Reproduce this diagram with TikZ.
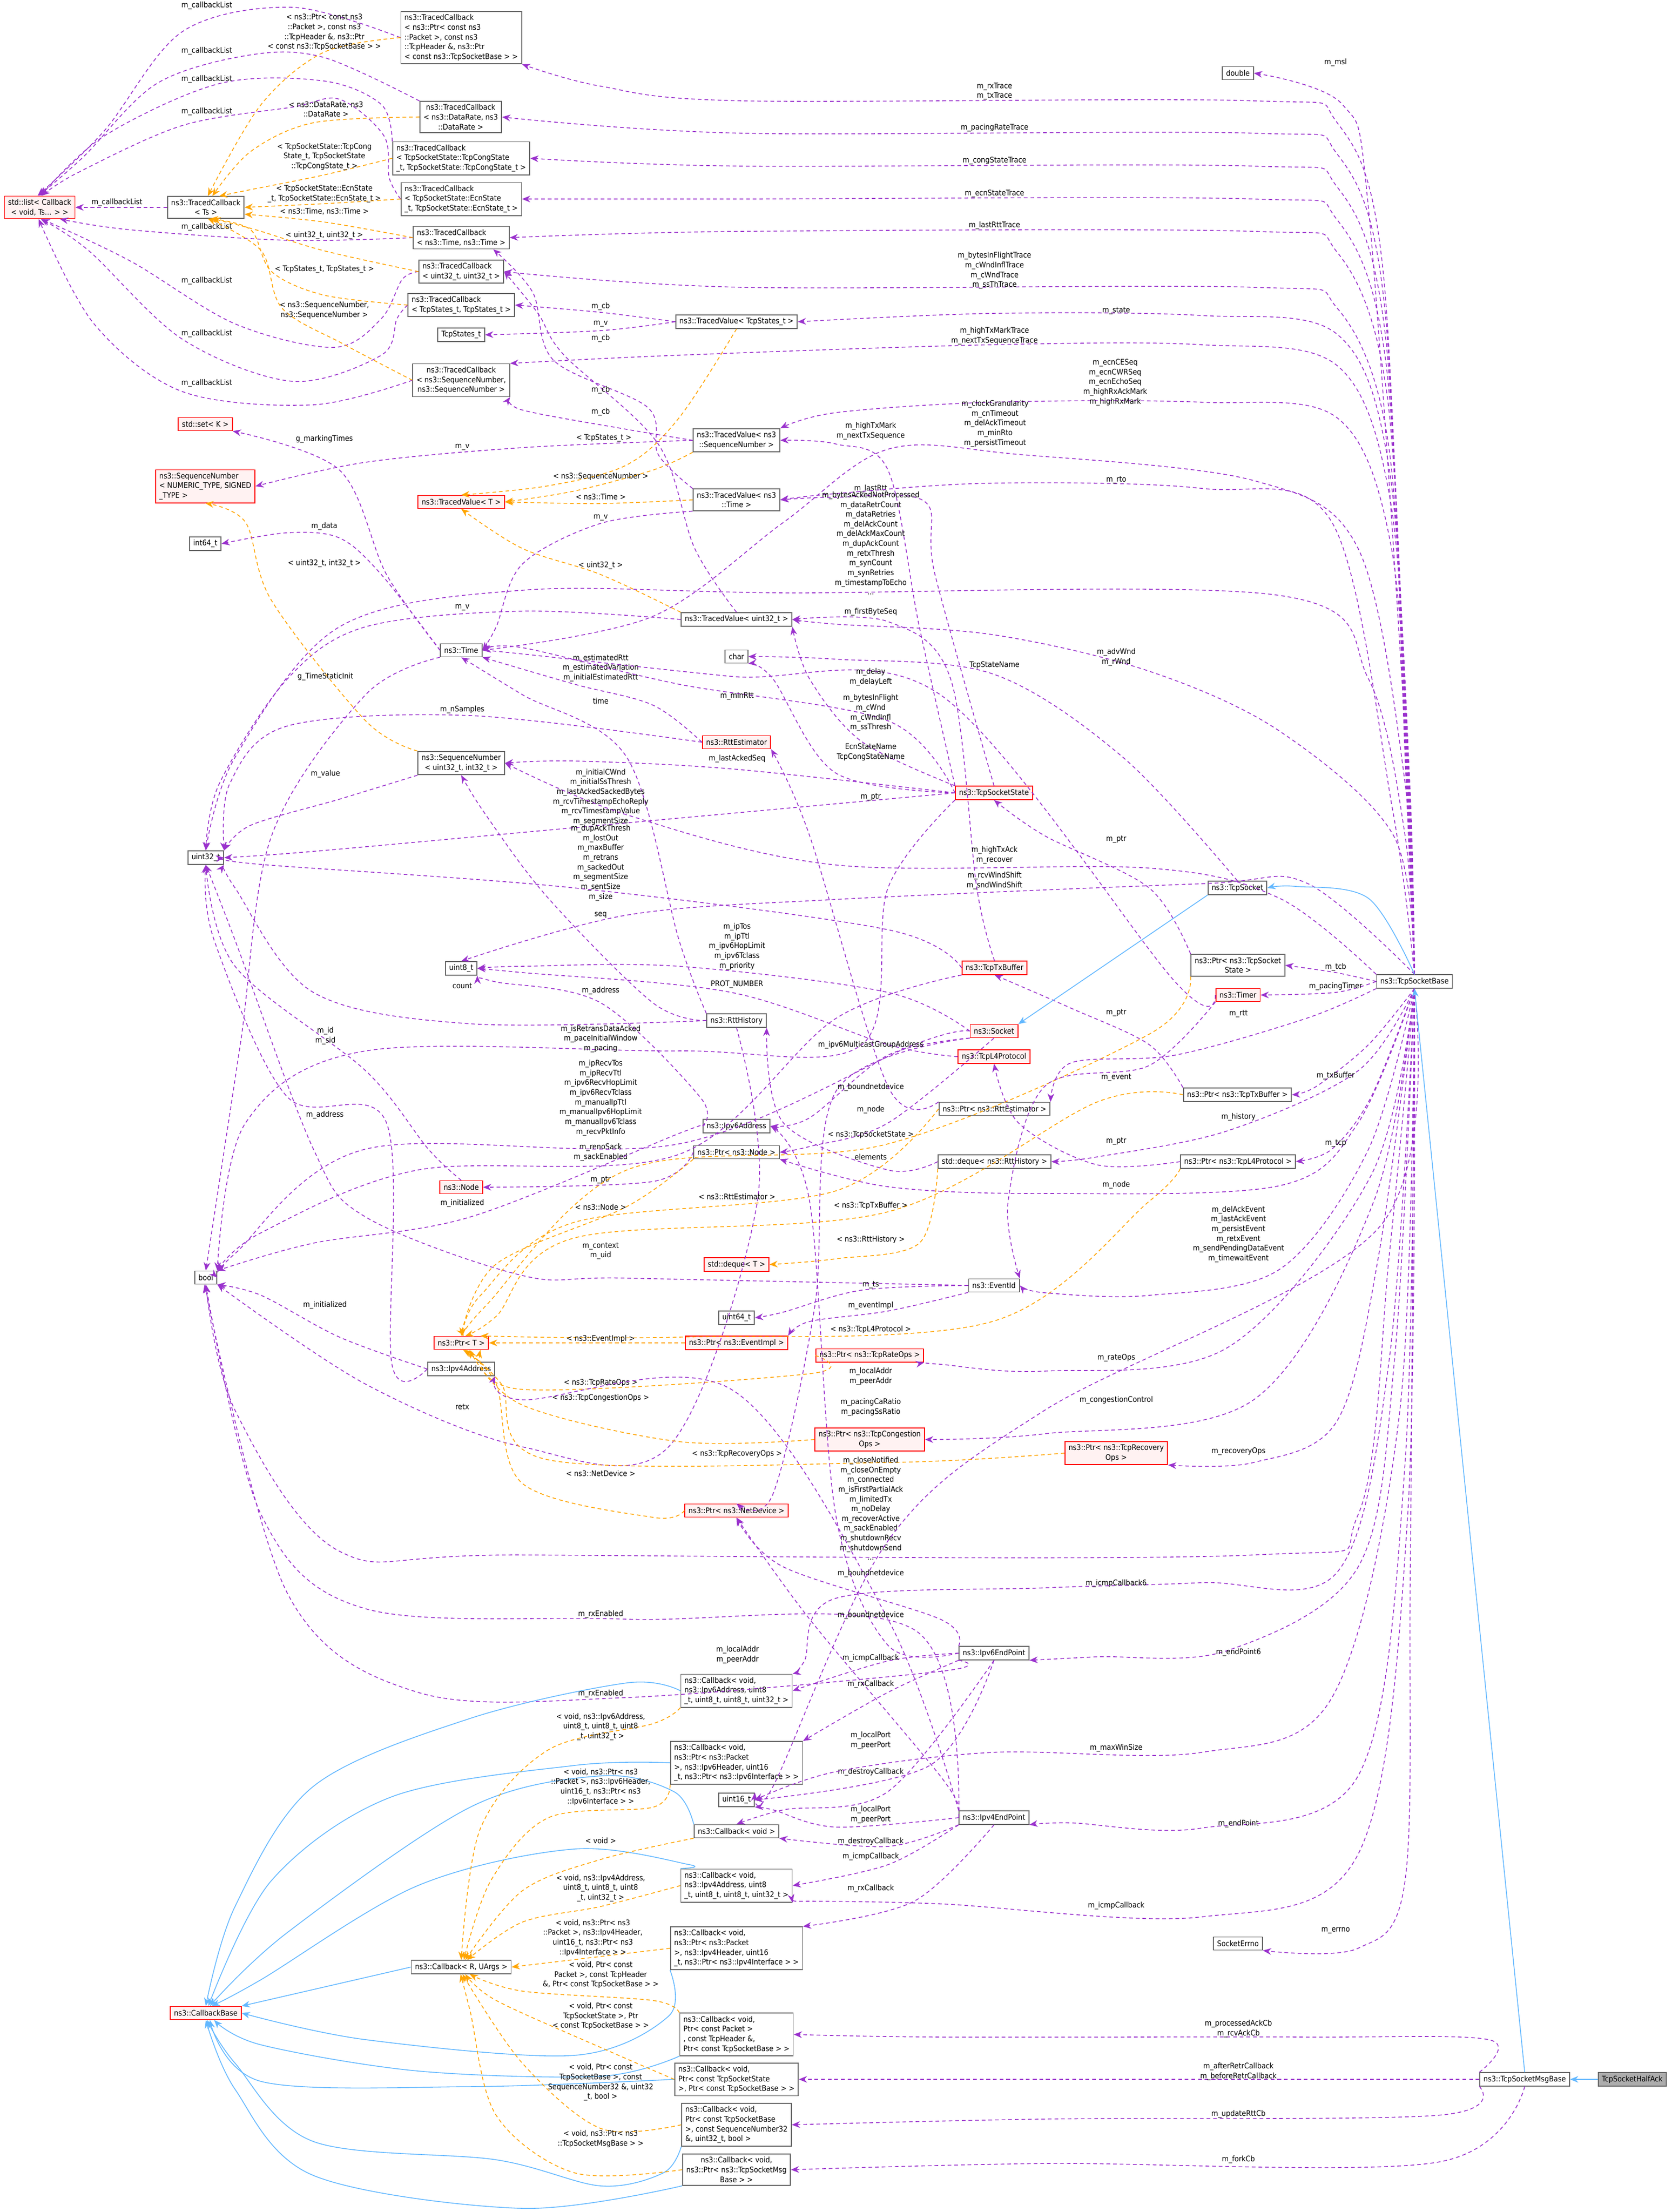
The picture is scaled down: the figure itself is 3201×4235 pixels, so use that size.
\documentclass[tikz,border=0pt]{standalone}
\usepackage{fontspec}
\setmainfont{DejaVu Sans Condensed}
\usetikzlibrary{arrows.meta}
\definecolor{pur}{HTML}{9A32CD}
\definecolor{org}{HTML}{FFA500}
\definecolor{blu}{HTML}{63B8FF}
\definecolor{gbd}{HTML}{666666}
\newcommand\ed[4]{\draw[#1] plot[smooth,tension=0.55] coordinates {(#2) #3 (#4)};}
\newcommand\lb[2]{\node[lbl] at (#1) {#2};}
\begin{document}
\begin{tikzpicture}[x=0.01cm,y=-0.01cm,
  every node/.style={font=\fontsize{4.2}{5.3}\selectfont},
  box/.style={draw=gbd,fill=white,line width=0.5pt,inner xsep=2pt,inner ysep=1.6pt,align=center,minimum height=0.25cm},
  rbox/.style={box,draw=red,fill=red!5},
  lbl/.style={inner sep=0pt,align=center},
  as/.style={draw=pur,line width=0.45pt,dash pattern=on 2pt off 1.6pt,-{Stealth[length=4.5pt,width=3.6pt]}},
  tp/.style={draw=org,line width=0.45pt,dash pattern=on 2pt off 1.6pt,-{Stealth[length=4.5pt,width=3.6pt]}},
  ih/.style={draw=blu,line width=0.45pt,-{Stealth[length=4.5pt,width=3.6pt]}}]
\useasboundingbox[fill=white] (0,0) rectangle (3201,4235);
% ---------- nodes
\node[rbox] (lst) at (76,397) {std::list< Callback\\< void, Ts... > >};
\node[box] (tcTs) at (394,397) {ns3::TracedCallback\\< Ts >};
\node[box,align=left] (tcPkt) at (883,72) {ns3::TracedCallback\\< ns3::Ptr< const ns3\\::Packet >, const ns3\\::TcpHeader \&, ns3::Ptr\\< const ns3::TcpSocketBase > >};
\node[box] (tcRate) at (882,224) {ns3::TracedCallback\\< ns3::DataRate, ns3\\::DataRate >};
\node[box,align=left] (tcCong) at (883,303) {ns3::TracedCallback\\< TcpSocketState::TcpCongState\\\_t, TcpSocketState::TcpCongState\_t >};
\node[box,align=left] (tcEcn) at (883,381) {ns3::TracedCallback\\< TcpSocketState::EcnState\\\_t, TcpSocketState::EcnState\_t >};
\node[box,align=left] (tcTime) at (883,455) {ns3::TracedCallback\\< ns3::Time, ns3::Time >};
\node[box,align=left] (tcU32) at (883,520) {ns3::TracedCallback\\< uint32\_t, uint32\_t >};
\node[box,align=left] (tcStates) at (883,584) {ns3::TracedCallback\\< TcpStates\_t, TcpStates\_t >};
\node[box] (statesT) at (883,641) {TcpStates\_t};
\node[box] (tcSeq) at (883,728) {ns3::TracedCallback\\< ns3::SequenceNumber,\\ns3::SequenceNumber >};
\node[box] (tvStates) at (1410,616) {ns3::TracedValue< TcpStates\_t >};
\node[rbox] (setK) at (393,812) {std::set< K >};
\node[rbox,align=left] (seqNum) at (393,931) {ns3::SequenceNumber\\< NUMERIC\_TYPE, SIGNED\\\_TYPE >};
\node[rbox] (tvT) at (883,961) {ns3::TracedValue< T >};
\node[box] (tvSeq) at (1410,843) {ns3::TracedValue< ns3\\::SequenceNumber >};
\node[box] (tvTime) at (1410,957) {ns3::TracedValue< ns3\\::Time >};
\node[box] (i64) at (393,1041) {int64\_t};
\node[box] (tvU32) at (1410,1186) {ns3::TracedValue< uint32\_t >};
\node[box] (time) at (883,1245) {ns3::Time};
\node[box] (chr) at (1410,1257) {char};
\node[rbox] (rttEst) at (1410,1421) {ns3::RttEstimator};
\node[box] (seqU32) at (883,1461) {ns3::SequenceNumber\\< uint32\_t, int32\_t >};
\node[box] (u32) at (394,1642) {uint32\_t};
\node[box] (u8) at (883,1854) {uint8\_t};
\node[box] (rttHist) at (1410,1954) {ns3::RttHistory};
\node[box] (ip6) at (1410,2156) {ns3::Ipv6Address};
\node[box] (ptrNode) at (1410,2206) {ns3::Ptr< ns3::Node >};
\node[rbox] (node) at (883,2273) {ns3::Node};
\node[box] (bool) at (394,2446) {bool};
\node[rbox] (dequeT) at (1410,2421) {std::deque< T >};
\node[box] (u64) at (1410,2523) {uint64\_t};
\node[rbox] (ptrT) at (883,2571) {ns3::Ptr< T >};
\node[rbox] (ptrEv) at (1410,2571) {ns3::Ptr< ns3::EventImpl >};
\node[box] (ip4) at (883,2621) {ns3::Ipv4Address};
\node[rbox] (ptrDev) at (1410,2892) {ns3::Ptr< ns3::NetDevice >};
\node[box,align=left] (cbIp6) at (1410,3237) {ns3::Callback< void,\\ ns3::Ipv6Address, uint8\\\_t, uint8\_t, uint8\_t, uint32\_t >};
\node[box,align=left] (cbIp6p) at (1410,3375) {ns3::Callback< void,\\ ns3::Ptr< ns3::Packet\\ >, ns3::Ipv6Header, uint16\\\_t, ns3::Ptr< ns3::Ipv6Interface > >};
\node[box] (u16) at (1410,3446) {uint16\_t};
\node[box] (cbVoid) at (1410,3506) {ns3::Callback< void >};
\node[box,align=left] (cbIp4) at (1410,3610) {ns3::Callback< void,\\ ns3::Ipv4Address, uint8\\\_t, uint8\_t, uint8\_t, uint32\_t >};
\node[box,align=left] (cbIp4p) at (1410,3730) {ns3::Callback< void,\\ ns3::Ptr< ns3::Packet\\ >, ns3::Ipv4Header, uint16\\\_t, ns3::Ptr< ns3::Ipv4Interface > >};
\node[box] (cbR) at (883,3766) {ns3::Callback< R, UArgs >};
\node[rbox] (cbBase) at (394,3854) {ns3::CallbackBase};
\node[box,align=left] (cbPkt) at (1410,3895) {ns3::Callback< void,\\ Ptr< const Packet >\\, const TcpHeader \&,\\ Ptr< const TcpSocketBase > >};
\node[box,align=left] (cbState) at (1410,3981) {ns3::Callback< void,\\ Ptr< const TcpSocketState\\ >, Ptr< const TcpSocketBase > >};
\node[box,align=left] (cbSeq) at (1410,4068) {ns3::Callback< void,\\ Ptr< const TcpSocketBase\\ >, const SequenceNumber32\\ \&, uint32\_t, bool >};
\node[box] (cbMsg) at (1410,4154) {ns3::Callback< void,\\ ns3::Ptr< ns3::TcpSocketMsg\\Base > >};
\node[box] (dbl) at (2370,140) {double};
\node[rbox] (tss) at (1903,1518) {ns3::TcpSocketState};
\node[box] (tsock) at (2369,1700) {ns3::TcpSocket};
\node[box] (ptrTss) at (2370,1848) {ns3::Ptr< ns3::TcpSocket\\State >};
\node[box] (tsb) at (2708,1879) {ns3::TcpSocketBase};
\node[rbox] (timer) at (2370,1905) {ns3::Timer};
\node[rbox] (txbuf) at (1904,1853) {ns3::TcpTxBuffer};
\node[rbox] (sock) at (1903,1974) {ns3::Socket};
\node[rbox] (l4) at (1903,2023) {ns3::TcpL4Protocol};
\node[box] (ptrTx) at (2369,2096) {ns3::Ptr< ns3::TcpTxBuffer >};
\node[box] (ptrRtt) at (1904,2123) {ns3::Ptr< ns3::RttEstimator >};
\node[box] (dequeRtt) at (1904,2224) {std::deque< ns3::RttHistory >};
\node[box] (ptrL4) at (2370,2224) {ns3::Ptr< ns3::TcpL4Protocol >};
\node[box] (evId) at (1903,2461) {ns3::EventId};
\node[rbox] (ptrRate) at (1665,2595) {ns3::Ptr< ns3::TcpRateOps >};
\node[rbox] (ptrCong) at (1665,2756) {ns3::Ptr< ns3::TcpCongestion\\Ops >};
\node[rbox] (ptrRec) at (2137,2782) {ns3::Ptr< ns3::TcpRecovery\\Ops >};
\node[box] (ep6) at (1903,3165) {ns3::Ipv6EndPoint};
\node[box] (ep4) at (1903,3480) {ns3::Ipv4EndPoint};
\node[box] (errno) at (2370,3721) {SocketErrno};
\node[box] (msgBase) at (2919,3981) {ns3::TcpSocketMsgBase};
\node[box,fill=gray!65] (halfAck) at (3125,3981) {TcpSocketHalfAck};
% ---------- callback list
\ed{as}{tcPkt.west}{(560,14) (350,60) (200,250)}{lst.100}
\ed{as}{tcRate.north west}{(620,110) (480,105) (300,160) (160,300)}{lst.95}
\ed{as}{tcCong.north west}{(730,200) (620,155) (420,160) (200,260)}{lst.85}
\ed{as}{tcEcn.west}{(745,340) (735,260) (650,190) (560,205) (350,240) (150,330)}{lst.80}
\ed{as}{tcTs.west}{}{lst.east}
\ed{as}{tcTime.west}{(550,460) (250,440)}{lst.-30}
\ed{as}{tcU32.west}{(770,535) (730,610) (640,665) (450,620) (250,500)}{lst.-80}
\ed{as}{tcStates.west}{(760,610) (730,680) (560,730) (350,650) (170,480)}{lst.-85}
\ed{as}{tcSeq.west}{(600,775) (350,750) (180,620)}{lst.-95}
\lb{396,11}{m\_callbackList}\lb{396,98}{m\_callbackList}\lb{396,152}{m\_callbackList}
\lb{396,214}{m\_callbackList}\lb{224,388}{m\_callbackList}\lb{396,435}{m\_callbackList}
\lb{396,538}{m\_callbackList}\lb{396,639}{m\_callbackList}\lb{396,734}{m\_callbackList}
% templates to TracedCallback<Ts>
\ed{tp}{tcPkt.west}{(620,100) (500,200)}{tcTs.80}
\ed{tp}{tcRate.west}{(600,235) (480,290)}{tcTs.60}
\ed{tp}{tcCong.west}{(620,335) (470,365)}{tcTs.40}
\ed{tp}{tcEcn.west}{(620,390)}{tcTs.east}
\ed{tp}{tcTime.west}{(620,425)}{tcTs.-10}
\ed{tp}{tcU32.west}{(620,480) (490,440)}{tcTs.-60}
\ed{tp}{tcStates.west}{(620,565) (520,520) (480,440)}{tcTs.-70}
\ed{tp}{tcSeq.west}{(660,660) (540,590) (500,480)}{tcTs.-80}
\lb{621,62}{< ns3::Ptr< const ns3\\::Packet >, const ns3\\::TcpHeader \&, ns3::Ptr\\< const ns3::TcpSocketBase > >}
\lb{624,209}{< ns3::DataRate, ns3\\::DataRate >}
\lb{621,300}{< TcpSocketState::TcpCong\\State\_t, TcpSocketState\\::TcpCongState\_t >}
\lb{621,371}{< TcpSocketState::EcnState\\\_t, TcpSocketState::EcnState\_t >}
\lb{621,405}{< ns3::Time, ns3::Time >}
\lb{621,451}{< uint32\_t, uint32\_t >}
\lb{621,516}{< TcpStates\_t, TcpStates\_t >}
\lb{621,594}{< ns3::SequenceNumber,\\ns3::SequenceNumber >}
% traced values
\ed{as}{tvStates.west}{(1150,598)}{tcStates.east}
\ed{as}{tvStates.west}{(1150,633)}{statesT.east}
\ed{as}{tvU32.north}{(1330,1050) (1260,850) (1080,680) (1030,600)}{tcU32.east}
\ed{as}{tvTime.north west}{(1260,870) (1240,780) (1060,690) (1020,560)}{tcTime.-20}
\ed{as}{tvSeq.west}{(1200,822) (1000,785)}{tcSeq.south east}
\ed{as}{tvSeq.west}{(1000,857) (700,885)}{seqNum.east}
\ed{as}{tvTime.south west}{(1150,1002) (1000,1080) (950,1200)}{time.east}
\ed{as}{tvU32.west}{(1000,1170) (700,1200) (550,1300) (420,1500)}{u32.north}
\lb{1150,587}{m\_cb}\lb{1150,620}{m\_v}\lb{1150,648}{m\_cb}\lb{1150,747}{m\_cb}\lb{1150,789}{m\_cb}
\lb{885,856}{m\_v}\lb{1150,991}{m\_v}\lb{885,1163}{m\_v}
\ed{tp}{tvStates.south}{(1300,800) (1200,890) (1050,930)}{tvT.north}
\ed{tp}{tvSeq.south west}{(1250,900) (1100,940)}{tvT.east}
\ed{tp}{tvTime.west}{(1150,964)}{tvT.east}
\ed{tp}{tvU32.north west}{(1150,1100) (1000,1050)}{tvT.south}
\lb{1156,839}{< TcpStates\_t >}\lb{1150,912}{< ns3::SequenceNumber >}\lb{1150,951}{< ns3::Time >}\lb{1150,1083}{< uint32\_t >}
\ed{tp}{seqU32.north west}{(700,1380) (520,1150) (470,1000)}{seqNum.south}
\lb{621,1079}{< uint32\_t, int32\_t >}
% time etc
\ed{as}{time.west}{(740,1100) (650,900)}{setK.south east}
\ed{as}{time.west}{(730,1100) (650,1030) (550,1020)}{i64.east}
\ed{as}{time.south west}{(700,1330) (520,1600) (460,2000)}{bool.north}
\lb{621,841}{g\_markingTimes}\lb{621,1008}{m\_data}\lb{623,1296}{g\_TimeStaticInit}
\ed{as}{rttEst.west}{(1250,1350) (1100,1310)}{time.south east}
\ed{as}{rttEst.west}{(900,1370) (550,1390) (440,1500)}{u32.north east}
\ed{as}{rttHist.north west}{(1300,1800) (1200,1450) (1000,1330)}{time.south}
\ed{as}{rttHist.west}{(1250,1920) (1050,1720) (930,1560)}{seqU32.south}
\ed{as}{rttHist.west}{(900,1960) (600,1900) (450,1700)}{u32.south east}
\ed{as}{rttHist.south}{(1450,2300) (1280,2770) (1000,2770) (700,2650)}{bool.south east}
\lb{1150,1279}{m\_estimatedRtt\\m\_estimatedVariation\\m\_initialEstimatedRtt}
\lb{885,1359}{m\_nSamples}\lb{1150,1342}{time}\lb{1150,1752}{seq}\lb{885,1887}{count}\lb{885,2693}{retx}
\lb{623,1482}{m\_value}
\ed{as}{seqU32.south west}{(650,1530) (480,1580)}{u32.north east}
% TcpSocketState
\ed{as}{tss.west}{(1700,1380) (1300,1310) (1000,1240)}{time.east}
\ed{as}{tss.west}{(1400,1472) (1100,1457)}{seqU32.east}
\ed{as}{tss.west}{(1150,1580) (600,1630)}{u32.east}
\ed{as}{tss.north west}{(1760,1200) (1700,900) (1600,850)}{tvSeq.east}
\ed{as}{tss.north}{(1790,1100) (1770,960) (1600,952)}{tvTime.east}
\ed{as}{tss.north west}{(1650,1420) (1550,1300)}{tvU32.south east}
\ed{as}{tss.west}{(1600,1480) (1480,1300)}{chr.south east}
\ed{as}{tss.south west}{(1700,1700) (1650,2000) (1300,2012) (700,2012) (470,2150)}{bool.north east}
\lb{1411,1333}{m\_minRtt}\lb{1411,1453}{m\_lastAckedSeq}
\lb{1150,1526}{m\_initialCWnd\\m\_initialSsThresh\\m\_lastAckedSackedBytes\\m\_rcvTimestampEchoReply\\m\_rcvTimestampValue\\m\_segmentSize}
\lb{1667,825}{m\_highTxMark\\m\_nextTxSequence}\lb{1667,936}{m\_lastRtt}
\lb{1667,1365}{m\_bytesInFlight\\m\_cWnd\\m\_cWndInfl\\m\_ssThresh}
\lb{1667,1440}{EcnStateName\\TcpCongStateName}
\lb{1150,1989}{m\_isRetransDataAcked\\m\_paceInitialWindow\\m\_pacing}
% TxBuffer, Socket, L4
\ed{as}{txbuf.west}{(1700,1780) (1100,1700) (500,1655)}{u32.east}
\ed{as}{txbuf.south west}{(1600,1950) (1300,2210) (800,2240) (500,2360)}{bool.north east}
\ed{as}{txbuf.north}{(1870,1700) (1820,1300) (1700,1190)}{tvU32.east}
\lb{1150,1652}{m\_dupAckThresh\\m\_lostOut\\m\_maxBuffer\\m\_retrans\\m\_sackedOut\\m\_segmentSize\\m\_sentSize\\m\_size}
\lb{1150,2206}{m\_renoSack\\m\_sackEnabled}\lb{1667,1172}{m\_firstByteSeq}
\ed{as}{sock.west}{(1700,1900) (1300,1850) (1000,1850)}{u8.east}
\ed{as}{sock.west}{(1750,2000) (1300,2190) (700,2200) (450,2400)}{bool.east}
\ed{as}{sock.south west}{(1700,2020) (1550,2140)}{ip6.east}
\ed{as}{sock.south west}{(1600,2090) (1560,2500) (1480,2860)}{ptrDev.north}
\ed{as}{sock.south}{(1700,2150) (1550,2195)}{ptrNode.east}
\ed{as}{l4.west}{(1700,2000) (1400,1900) (1000,1862)}{u8.east}
\lb{1411,1812}{m\_ipTos\\m\_ipTtl\\m\_ipv6HopLimit\\m\_ipv6Tclass\\m\_priority}
\lb{1150,2102}{m\_ipRecvTos\\m\_ipRecvTtl\\m\_ipv6RecvHopLimit\\m\_ipv6RecvTclass\\m\_manualIpTtl\\m\_manualIpv6HopLimit\\m\_manualIpv6Tclass\\m\_recvPktInfo}
\lb{1667,2001}{m\_ipv6MulticastGroupAddress}\lb{1667,2082}{m\_boundnetdevice}\lb{1667,2125}{m\_node}
\lb{1411,1885}{PROT\_NUMBER}
% addresses, nodes
\ed{as}{ip6.west}{(1340,2100) (1150,1920) (950,1880)}{u8.south east}
\ed{as}{ip6.west}{(1300,2170) (900,2330) (600,2380)}{bool.north east}
\ed{as}{ip4.west}{(750,2610) (740,2150) (550,2100) (410,1800)}{u32.south}
\ed{as}{ip4.west}{(650,2560) (500,2480)}{bool.south east}
\ed{as}{node.north}{(820,2200) (700,2050) (450,1850)}{u32.south}
\ed{as}{ptrNode.west}{(1250,2262)}{node.east}
\lb{1150,1897}{m\_address}\lb{885,2304}{m\_initialized}\lb{622,2135}{m\_address}\lb{622,2499}{m\_initialized}
\lb{623,1983}{m\_id\\m\_sid}\lb{1150,2259}{m\_ptr}
% Ptr templates
\ed{tp}{ptrNode.south west}{(1200,2310) (950,2420)}{ptrT.north}
\ed{tp}{ptrRtt.west}{(1600,2280) (1100,2340) (920,2480)}{ptrT.80}
\ed{tp}{ptrTss.south west}{(2200,1980) (1700,2190) (1200,2240) (930,2500)}{ptrT.70}
\ed{tp}{ptrTx.west}{(2100,2110) (1700,2320) (1100,2370) (950,2520)}{ptrT.60}
\ed{tp}{ptrL4.south west}{(2200,2300) (1900,2530) (1300,2560)}{ptrT.20}
\ed{tp}{ptrEv.west}{}{ptrT.east}
\ed{tp}{ptrRate.west}{(1550,2630) (1000,2660)}{ptrT.-20}
\ed{tp}{ptrCong.west}{(1300,2760) (1000,2690)}{ptrT.-40}
\ed{tp}{ptrRec.west}{(1700,2800) (1050,2795) (960,2650)}{ptrT.-60}
\ed{tp}{ptrDev.west}{(1250,2905) (1000,2840) (950,2650)}{ptrT.-75}
\ed{tp}{dequeRtt.south west}{(1760,2380) (1600,2410)}{dequeT.east}
\lb{1150,2311}{< ns3::Node >}\lb{1411,2291}{< ns3::RttEstimator >}\lb{1667,2172}{< ns3::TcpSocketState >}
\lb{1667,2308}{< ns3::TcpTxBuffer >}\lb{1667,2545}{< ns3::TcpL4Protocol >}\lb{1150,2563}{< ns3::EventImpl >}
\lb{1150,2648}{< ns3::TcpRateOps >}\lb{1150,2676}{< ns3::TcpCongestionOps >}\lb{1411,2784}{< ns3::TcpRecoveryOps >}
\lb{1150,2821}{< ns3::NetDevice >}\lb{1667,2373}{< ns3::RttHistory >}
% ptr members
\ed{as}{ptrRtt.north west}{(1700,2080) (1550,1600)}{rttEst.south east}
\ed{as}{dequeRtt.west}{(1700,2240) (1500,2150)}{rttHist.south east}
\ed{as}{ptrTss.north west}{(2200,1700) (2000,1600)}{tss.south}
\ed{as}{ptrTx.north west}{(2200,2000) (2050,1930)}{txbuf.south}
\ed{as}{ptrL4.west}{(2100,2230) (1950,2150)}{l4.south}
\lb{1667,1526}{m\_ptr}\lb{1667,2215}{elements}\lb{2137,1607}{m\_ptr}\lb{2137,1939}{m\_ptr}\lb{2137,2185}{m\_ptr}
% EventId, Timer
\ed{as}{evId.west}{(1650,2470) (1500,2512)}{u64.east}
\ed{as}{evId.south west}{(1700,2510) (1550,2530)}{ptrEv.north east}
\ed{as}{evId.west}{(1200,2447) (1000,2442) (700,2330) (600,2200) (450,1800)}{u32.south}
\ed{as}{timer.south west}{(2200,2040) (2000,2080) (1930,2300)}{evId.north east}
\ed{as}{timer.west}{(2250,1880) (1800,1330) (1400,1295) (1000,1252)}{time.east}
\lb{1667,2460}{m\_ts}\lb{1667,2500}{m\_eventImpl}\lb{1150,2395}{m\_context\\m\_uid}
\lb{2137,2063}{m\_event}\lb{1667,1296}{m\_delay\\m\_delayLeft}
% endpoints
\ed{as}{ep4.north west}{(1700,3100) (1400,2660) (1000,2680)}{ip4.south east}
\ed{as}{ep6.west}{(1700,3150) (1600,2900) (1550,2300)}{ip6.east}
\ed{as}{ep6.north west}{(1800,3100) (1500,3000)}{ptrDev.south}
\ed{as}{ep4.north west}{(1800,3400) (1550,3100)}{ptrDev.south}
\ed{as}{ep6.west}{(1700,3180)}{cbIp6.east}
\ed{as}{ep6.south west}{(1700,3240)}{cbIp6p.north east}
\ed{as}{ep6.south}{(1780,3380)}{u16.east}
\ed{as}{ep6.south}{(1700,3430) (1500,3465)}{cbVoid.north}
\ed{as}{ep4.west}{(1600,3498) (1480,3465)}{u16.south east}
\ed{as}{ep4.south west}{(1700,3535)}{cbVoid.south east}
\ed{as}{ep4.south west}{(1700,3570)}{cbIp4.east}
\ed{as}{ep4.south}{(1750,3640)}{cbIp4p.north east}
\ed{as}{ep4.west}{(1750,3120) (1200,3100) (700,3080) (500,2900)}{bool.south}
\ed{as}{ep6.south west}{(1800,3200) (1200,3250) (800,3240) (550,3050)}{bool.-100}
\lb{1667,2635}{m\_localAddr\\m\_peerAddr}\lb{1412,3168}{m\_localAddr\\m\_peerAddr}
\lb{1667,3013}{m\_boundnetdevice}\lb{1667,3093}{m\_boundnetdevice}
\lb{1667,3175}{m\_icmpCallback}\lb{1667,3225}{m\_rxCallback}\lb{1667,3332}{m\_localPort\\m\_peerPort}
\lb{1667,3393}{m\_destroyCallback}\lb{1667,3474}{m\_localPort\\m\_peerPort}\lb{1667,3526}{m\_destroyCallback}
\lb{1667,3555}{m\_icmpCallback}\lb{1667,3616}{m\_rxCallback}\lb{1150,3091}{m\_rxEnabled}\lb{1150,3243}{m\_rxEnabled}
% TcpSocketBase upper
\ed{as}{tsb.north}{(2690,1400) (2620,400) (2570,200)}{dbl.east}
\ed{as}{tsb.north}{(2692,1500) (2648,520) (2560,235) (2400,193) (1420,193) (1150,165)}{tcPkt.south east}
\ed{as}{tsb.north}{(2693,1500) (2650,580) (2560,295) (2400,255) (1420,255)}{tcRate.east}
\ed{as}{tsb.north}{(2694,1500) (2652,640) (2560,358) (2400,318) (1420,318)}{tcCong.east}
\ed{as}{tsb.north}{(2695,1500) (2654,700) (2560,421) (2400,381) (1420,381)}{tcEcn.east}
\ed{as}{tsb.north}{(2696,1500) (2656,760) (2560,483) (2400,443) (1420,443)}{tcTime.east}
\ed{as}{tsb.north}{(2697,1500) (2658,850) (2560,590) (2400,550) (1420,550)}{tcU32.east}
\ed{as}{tsb.north}{(2698,1500) (2660,900) (2560,640) (2300,604) (1900,600)}{tvStates.east}
\ed{as}{tsb.north}{(2699,1500) (2662,960) (2560,700) (2300,660) (1900,660) (1300,680)}{tcSeq.north east}
\ed{as}{tsb.north}{(2700,1550) (2664,1050) (2560,800) (2300,770) (1900,770) (1600,790)}{tvSeq.north east}
\ed{as}{tsb.north}{(2666,1550) (2550,1000) (2300,935) (1900,925) (1600,945)}{tvTime.east}
\ed{as}{tsb.north}{(2690,1500) (2600,1050) (2400,920) (1950,870) (1700,860) (1500,1000) (1250,1180)}{time.east}
\ed{as}{tsb.north}{(2668,1600) (2450,1400) (2200,1285) (1900,1215) (1600,1195)}{tvU32.east}
\ed{as}{tsock.north}{(2150,1450) (1900,1290) (1600,1262)}{chr.east}
\ed{as}{tsb.north}{(2690,1600) (2620,1300) (2450,1140) (1500,1135) (1000,1130) (650,1200) (450,1450)}{u32.north}
\ed{as}{tsb.north west}{(2450,1720) (2200,1662) (1600,1656) (1200,1560)}{seqU32.east}
\ed{as}{tsb.north}{(2500,1690) (2300,1692) (1600,1722) (1200,1752)}{u8.north}
\lb{2557,120}{m\_msl}\lb{1904,175}{m\_rxTrace\\m\_txTrace}\lb{1904,245}{m\_pacingRateTrace}
\lb{1904,308}{m\_congStateTrace}\lb{1904,371}{m\_ecnStateTrace}\lb{1904,432}{m\_lastRttTrace}
\lb{1904,518}{m\_bytesInFlightTrace\\m\_cWndInflTrace\\m\_cWndTrace\\m\_ssThTrace}
\lb{2137,595}{m\_state}\lb{1904,643}{m\_highTxMarkTrace\\m\_nextTxSequenceTrace}
\lb{2135,732}{m\_ecnCESeq\\m\_ecnCWRSeq\\m\_ecnEchoSeq\\m\_highRxAckMark\\m\_highRxMark}
\lb{1905,811}{m\_clockGranularity\\m\_cnTimeout\\m\_delAckTimeout\\m\_minRto\\m\_persistTimeout}
\lb{2137,919}{m\_rto}\lb{2137,1258}{m\_advWnd\\m\_rWnd}\lb{1904,1274}{TcpStateName}
\lb{1667,1040}{m\_bytesAckedNotProcessed\\m\_dataRetrCount\\m\_dataRetries\\m\_delAckCount\\m\_delAckMaxCount\\m\_dupAckCount\\m\_retxThresh\\m\_synCount\\m\_synRetries\\m\_timestampToEcho\\...}
\lb{1904,1637}{m\_highTxAck\\m\_recover}\lb{1904,1686}{m\_rcvWindShift\\m\_sndWindShift}
% TcpSocketBase lower
\ed{as}{tsb.west}{(2557,1862)}{ptrTss.east}
\ed{as}{tsb.west}{(2557,1900)}{timer.east}
\ed{as}{tsb.south west}{(2500,1950) (2250,2020) (2050,2035)}{ptrRtt.north east}
\ed{as}{tsb.south}{(2620,2000) (2520,2080)}{ptrTx.east}
\ed{as}{tsb.south}{(2600,2050) (2350,2165) (2100,2215)}{dequeRtt.east}
\ed{as}{tsb.south}{(2625,2100) (2550,2200)}{ptrL4.east}
\ed{as}{tsb.south}{(2600,2150) (2450,2270) (2000,2285) (1700,2272)}{ptrNode.south east}
\ed{as}{tsb.south}{(2620,2200) (2450,2430) (2200,2480) (2000,2475)}{evId.east}
\ed{as}{tsb.south}{(2625,2250) (2350,2580) (2000,2625) (1800,2612)}{ptrRate.south east}
\ed{as}{tsb.south}{(2630,2300) (2400,2680) (2000,2745)}{ptrCong.east}
\ed{as}{tsb.south}{(2640,2400) (2560,2720) (2400,2800)}{ptrRec.south east}
\ed{as}{tsb.south}{(2660,2400) (2600,2900) (2400,2977) (1000,2977) (650,2970) (450,2700)}{bool.south}
\ed{as}{tsb.south}{(2660,2600) (2560,3010) (2300,3030) (2000,3040) (1600,3060) (1540,3180)}{cbIp6.north east}
\ed{as}{tsb.south}{(2670,2600) (2600,3000) (2350,3160) (2100,3172)}{ep6.south east}
\ed{as}{tsb.south}{(2680,2700) (2550,3250) (2300,3355) (1900,3355) (1600,3392)}{u16.east}
\ed{as}{tsb.south}{(2690,2800) (2600,3400) (2300,3500) (2050,3490)}{ep4.south east}
\ed{as}{tsb.south}{(2695,2900) (2600,3550) (2300,3670) (1800,3645) (1560,3640)}{cbIp4.south east}
\ed{as}{tsb.south}{(2700,3000) (2690,3600) (2600,3730)}{errno.south east}
\lb{2557,1852}{m\_tcb}\lb{2557,1889}{m\_pacingTimer}\lb{2371,1941}{m\_rtt}\lb{2557,2060}{m\_txBuffer}
\lb{2371,2139}{m\_history}\lb{2557,2189}{m\_tcp}\lb{2137,2269}{m\_node}
\lb{2371,2363}{m\_delAckEvent\\m\_lastAckEvent\\m\_persistEvent\\m\_retxEvent\\m\_sendPendingDataEvent\\m\_timewaitEvent}
\lb{2137,2600}{m\_rateOps}\lb{2137,2681}{m\_congestionControl}\lb{2371,2779}{m\_recoveryOps}
\lb{1667,2694}{m\_pacingCaRatio\\m\_pacingSsRatio}
\lb{1667,2888}{m\_closeNotified\\m\_closeOnEmpty\\m\_connected\\m\_isFirstPartialAck\\m\_limitedTx\\m\_noDelay\\m\_recoverActive\\m\_sackEnabled\\m\_shutdownRecv\\m\_shutdownSend\\...}
\lb{2137,3032}{m\_icmpCallback6}\lb{2371,3164}{m\_endPoint6}\lb{2137,3347}{m\_maxWinSize}
\lb{2371,3492}{m\_endPoint}\lb{2137,3649}{m\_icmpCallback}\lb{2557,3696}{m\_errno}
\ed{as}{tsb.south}{(2640,2350) (2000,2700) (1700,2950) (1480,3420)}{u16.north east}
% msg base
\ed{as}{msgBase.north west}{(2850,3905) (2500,3900) (1800,3900)}{cbPkt.east}
\ed{as}{msgBase.west}{}{cbState.east}
\ed{as}{msgBase.south west}{(2750,4050) (2000,4057)}{cbSeq.east}
\ed{as}{msgBase.south}{(2750,4140) (2000,4142)}{cbMsg.east}
\lb{2371,3884}{m\_processedAckCb\\m\_rcvAckCb}\lb{2371,3966}{m\_afterRetrCallback\\m\_beforeRetrCallback}
\lb{2371,4048}{m\_updateRttCb}\lb{2371,4135}{m\_forkCb}
% inheritance
\draw[ih] (halfAck) -- (msgBase);
\draw[ih] (msgBase.north) -- (tsb.south);
\ed{ih}{tsb.north}{(2620,1720) (2480,1697)}{tsock.east}
\draw[ih] (tsock.south west) -- (sock.north east);
\draw[ih] (cbR.west) -- (cbBase.north east);
\ed{ih}{cbIp6.west}{(1200,3222) (900,3290) (600,3420) (450,3650)}{cbBase.north}
\ed{ih}{cbIp6p.west}{(1100,3380) (750,3440) (520,3600)}{cbBase.70}
\ed{ih}{cbVoid.north west}{(1290,3430) (1150,3400) (900,3460) (550,3700)}{cbBase.60}
\ed{ih}{cbIp4.north west}{(1320,3570) (1100,3540) (800,3610) (500,3790)}{cbBase.50}
\ed{ih}{cbIp4p.south west}{(1280,3860) (1100,3935) (700,3905)}{cbBase.east}
\ed{ih}{cbPkt.south west}{(1150,3975) (800,3965) (500,3915)}{cbBase.-40}
\ed{ih}{cbState.west}{(900,3995) (500,3985)}{cbBase.-60}
\ed{ih}{cbSeq.south west}{(1270,4160) (1150,4185) (950,4135) (600,4100) (450,3950)}{cbBase.-80}
\ed{ih}{cbMsg.south west}{(1000,4228) (600,4165) (450,4000)}{cbBase.-90}
\ed{tp}{cbIp6.south west}{(1250,3300) (1050,3350) (920,3500)}{cbR.north}
\ed{tp}{cbIp6p.south west}{(1250,3460) (1050,3480) (940,3600)}{cbR.70}
\ed{tp}{cbVoid.south west}{(1150,3560) (1000,3620)}{cbR.60}
\ed{tp}{cbIp4.west}{(1150,3650) (1000,3680)}{cbR.50}
\ed{tp}{cbIp4p.west}{}{cbR.east}
\ed{tp}{cbPkt.north west}{(1250,3830) (1000,3812)}{cbR.-40}
\ed{tp}{cbState.west}{(1150,3920) (950,3830)}{cbR.-60}
\ed{tp}{cbSeq.west}{(1150,4075) (1000,3950)}{cbR.-80}
\ed{tp}{cbMsg.west}{(1100,4160) (950,4050) (900,3850)}{cbR.-95}
\lb{1150,3306}{< void, ns3::Ipv6Address,\\uint8\_t, uint8\_t, uint8\\\_t, uint32\_t >}
\lb{1150,3421}{< void, ns3::Ptr< ns3\\::Packet >, ns3::Ipv6Header,\\uint16\_t, ns3::Ptr< ns3\\::Ipv6Interface > >}
\lb{1150,3524}{< void >}
\lb{1150,3615}{< void, ns3::Ipv4Address,\\uint8\_t, uint8\_t, uint8\\\_t, uint32\_t >}
\lb{1135,3710}{< void, ns3::Ptr< ns3\\::Packet >, ns3::Ipv4Header,\\uint16\_t, ns3::Ptr< ns3\\::Ipv4Interface > >}
\lb{1150,3781}{< void, Ptr< const\\Packet >, const TcpHeader\\\&, Ptr< const TcpSocketBase > >}
\lb{1150,3860}{< void, Ptr< const\\TcpSocketState >, Ptr\\< const TcpSocketBase > >}
\lb{1150,3987}{< void, Ptr< const\\TcpSocketBase >, const\\SequenceNumber32 \&, uint32\\\_t, bool >}
\lb{1150,4095}{< void, ns3::Ptr< ns3\\::TcpSocketMsgBase > >}
\end{tikzpicture}
\end{document}
